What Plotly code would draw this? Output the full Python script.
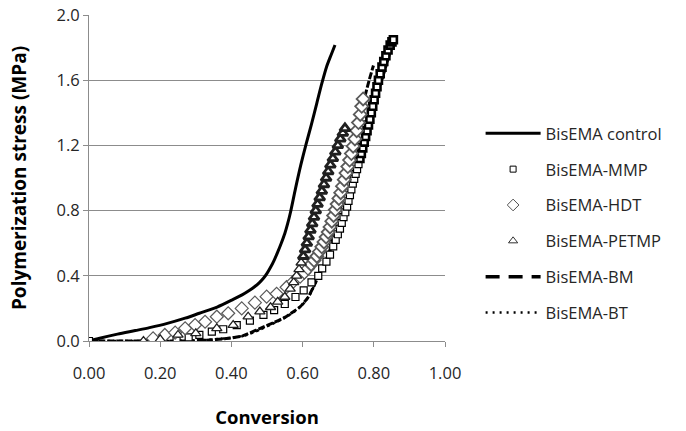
import plotly.graph_objects as go

# ---- data ----
control_x = [0.000, 0.030, 0.080, 0.130, 0.170, 0.220, 0.270, 0.310, 0.360, 0.405, 0.430, 0.450,
             0.465, 0.478, 0.490, 0.500, 0.510, 0.520, 0.530, 0.540, 0.550, 0.558, 0.566, 0.580,
             0.595, 0.610, 0.625, 0.640, 0.654, 0.667, 0.680, 0.691]
control_y = [0.000, 0.017, 0.042, 0.064, 0.082, 0.108, 0.140, 0.170, 0.208, 0.255, 0.283, 0.310,
             0.333, 0.357, 0.385, 0.415, 0.452, 0.495, 0.545, 0.600, 0.660, 0.720, 0.790, 0.935,
             1.080, 1.210, 1.330, 1.460, 1.580, 1.680, 1.755, 1.816]

mmp_x = [0.000, 0.246, 0.280, 0.310, 0.345, 0.377, 0.415, 0.452, 0.490, 0.520, 0.550, 0.580,
         0.603, 0.625, 0.644, 0.655, 0.667, 0.677, 0.686, 0.693, 0.699, 0.705, 0.710, 0.715,
         0.720, 0.725, 0.729, 0.733, 0.737, 0.741, 0.745, 0.749, 0.753, 0.757, 0.761, 0.765,
         0.769, 0.773, 0.777, 0.781, 0.785, 0.789, 0.793, 0.797, 0.801, 0.805, 0.809, 0.813,
         0.818, 0.823, 0.828, 0.834, 0.840, 0.846, 0.851, 0.855]
mmp_y = [0.000, 0.000, 0.022, 0.037, 0.057, 0.072, 0.098, 0.125, 0.160, 0.190, 0.227, 0.270,
         0.310, 0.360, 0.400, 0.445, 0.487, 0.530, 0.580, 0.620, 0.655, 0.690, 0.725, 0.760,
         0.790, 0.825, 0.860, 0.895, 0.930, 0.965, 0.995, 1.025, 1.055, 1.085, 1.120, 1.150,
         1.185, 1.220, 1.255, 1.290, 1.325, 1.360, 1.400, 1.440, 1.480, 1.520, 1.560, 1.600,
         1.640, 1.680, 1.715, 1.750, 1.785, 1.815, 1.835, 1.848]

hdt_x = [0.180, 0.213, 0.242, 0.270, 0.298, 0.326, 0.359, 0.391, 0.429, 0.466, 0.499, 0.527,
         0.555, 0.574, 0.593, 0.605, 0.615, 0.624, 0.632, 0.640, 0.647, 0.654, 0.660, 0.666,
         0.672, 0.677, 0.682, 0.687, 0.692, 0.697, 0.702, 0.707, 0.712, 0.717, 0.722, 0.727,
         0.732, 0.737, 0.742, 0.747, 0.752, 0.757, 0.762, 0.766, 0.770]
hdt_y = [0.016, 0.037, 0.051, 0.078, 0.098, 0.118, 0.149, 0.170, 0.200, 0.235, 0.272, 0.290,
         0.330, 0.364, 0.395, 0.420, 0.445, 0.470, 0.495, 0.520, 0.548, 0.578, 0.608, 0.638,
         0.668, 0.700, 0.735, 0.770, 0.805, 0.840, 0.875, 0.910, 0.950, 0.990, 1.030, 1.070,
         1.110, 1.150, 1.195, 1.240, 1.290, 1.340, 1.390, 1.440, 1.485]

petmp_x = [0.153, 0.200, 0.250, 0.300, 0.359, 0.405, 0.447, 0.480, 0.510, 0.530, 0.550, 0.565,
           0.575, 0.583, 0.590, 0.596, 0.602, 0.607, 0.612, 0.617, 0.622, 0.627, 0.632, 0.637,
           0.642, 0.648, 0.654, 0.660, 0.666, 0.672, 0.678, 0.685, 0.692, 0.699, 0.706, 0.713,
           0.719]
petmp_y = [0.000, 0.010, 0.037, 0.047, 0.078, 0.098, 0.149, 0.180, 0.207, 0.240, 0.270, 0.320,
           0.360, 0.400, 0.440, 0.480, 0.520, 0.560, 0.600, 0.640, 0.680, 0.720, 0.760, 0.800,
           0.840, 0.880, 0.920, 0.960, 1.000, 1.040, 1.080, 1.120, 1.160, 1.200, 1.240, 1.275,
           1.305]

bm_x = [0.000, 0.100, 0.200, 0.270, 0.330, 0.380, 0.430, 0.478, 0.518, 0.550, 0.574, 0.593,
        0.616, 0.635, 0.654, 0.668, 0.677, 0.686, 0.695, 0.705, 0.716, 0.728, 0.740, 0.752,
        0.764, 0.775, 0.787, 0.799]
bm_y = [0.000, 0.000, 0.000, 0.000, 0.005, 0.014, 0.030, 0.075, 0.112, 0.145, 0.180, 0.210,
        0.270, 0.354, 0.436, 0.507, 0.560, 0.690, 0.750, 0.800, 0.900, 1.030, 1.170, 1.290,
        1.400, 1.500, 1.600, 1.690]

bt_x = [0.000, 0.100, 0.200, 0.280, 0.340, 0.400, 0.440, 0.480, 0.518, 0.550, 0.575, 0.595,
        0.616, 0.635, 0.654, 0.668, 0.680, 0.692, 0.705, 0.718, 0.730, 0.742, 0.755, 0.768,
        0.781, 0.794, 0.807, 0.818, 0.830, 0.842, 0.853, 0.858]
bt_y = [0.000, 0.000, 0.000, 0.002, 0.008, 0.020, 0.035, 0.070, 0.108, 0.143, 0.178, 0.212,
        0.268, 0.350, 0.435, 0.505, 0.570, 0.640, 0.720, 0.810, 0.900, 0.990, 1.080, 1.170,
        1.270, 1.370, 1.470, 1.560, 1.650, 1.740, 1.820, 1.850]

x_ticks = [0.0, 0.2, 0.4, 0.6, 0.8, 1.0]
y_ticks = [0.0, 0.4, 0.8, 1.2, 1.6, 2.0]

FONT = "Open Sans"
GRID = "#8c8c8c"


def outline(ys, dense_from, thin, thick):
    # heavier outlines where the measured points crowd together (they render dark)
    return [thick if v >= dense_from else thin for v in ys]


fig = go.Figure()

# lines (drawn first)
fig.add_trace(go.Scatter(x=control_x, y=control_y, mode="lines", name="BisEMA control",
                         line=dict(color="black", width=3, shape="spline", smoothing=0.8),
                         legendgroup="g1", legendrank=1))
fig.add_trace(go.Scatter(x=bm_x, y=bm_y, mode="lines", name="BisEMA-BM", showlegend=False,
                         line=dict(color="black", width=3, dash="7px,2px",
                                   shape="spline", smoothing=0.6)))
fig.add_trace(go.Scatter(x=bt_x, y=bt_y, mode="lines", name="BisEMA-BT", showlegend=False,
                         line=dict(color="black", width=2.5, dash="3px,3px",
                                   shape="spline", smoothing=0.6)))

# markers
fig.add_trace(go.Scatter(x=mmp_x, y=mmp_y, mode="markers", name="BisEMA-MMP", showlegend=False,
                         marker=dict(symbol="square", size=7, color="white",
                                     line=dict(color="black",
                                               width=outline(mmp_y, 1.1, 1.2, 2.6)))))
fig.add_trace(go.Scatter(x=hdt_x, y=hdt_y, mode="markers", name="BisEMA-HDT", showlegend=False,
                         marker=dict(symbol="diamond", size=10, color="white",
                                     line=dict(color="#5a5a5a",
                                               width=outline(hdt_y, 0.45, 1.2, 1.8)))))
fig.add_trace(go.Scatter(x=petmp_x, y=petmp_y, mode="markers", name="BisEMA-PETMP",
                         showlegend=False,
                         marker=dict(symbol="triangle-up", size=9, color="white",
                                     line=dict(color="#202020",
                                               width=outline(petmp_y, 0.5, 1.3, 2.8)))))

# legend entries
fig.add_trace(go.Scatter(x=[None], y=[None], mode="markers", name="BisEMA-MMP",
                         marker=dict(symbol="square", size=6, color="white",
                                     line=dict(color="black", width=1)),
                         legendgroup="g2", legendrank=2))
fig.add_trace(go.Scatter(x=[None], y=[None], mode="markers", name="BisEMA-HDT",
                         marker=dict(symbol="diamond", size=9, color="white",
                                     line=dict(color="#505050", width=1)),
                         legendgroup="g3", legendrank=3))
fig.add_trace(go.Scatter(x=[None], y=[None], mode="markers", name="BisEMA-PETMP",
                         marker=dict(symbol="triangle-up", size=8, color="white",
                                     line=dict(color="#303030", width=1)),
                         legendgroup="g4", legendrank=4))
fig.add_trace(go.Scatter(x=[None], y=[None], mode="lines", name="BisEMA-BM",
                         line=dict(color="black", width=3.5, dash="14px,9px"),
                         legendgroup="g5", legendrank=5))
fig.add_trace(go.Scatter(x=[None], y=[None], mode="lines", name="BisEMA-BT",
                         line=dict(color="black", width=2.5, dash="2px,5px"),
                         legendgroup="g6", legendrank=6))

fig.update_layout(
    width=686, height=431,
    margin=dict(l=89, r=241, t=15, b=90),
    paper_bgcolor="white", plot_bgcolor="white",
    font=dict(family=FONT, size=16, color="#262626"),
    legend=dict(x=1.1, y=0.69, xanchor="left", yanchor="top",
                font=dict(family=FONT, size=16.5, color="#262626"),
                tracegroupgap=11.4, itemwidth=55, bgcolor="rgba(0,0,0,0)"),
    xaxis=dict(range=[0, 1], tickvals=x_ticks, tickformat=".2f", showgrid=False,
               showline=True, linecolor=GRID, linewidth=1, ticks="outside",
               ticklen=5, tickcolor=GRID, zeroline=False, ticklabelstandoff=12,
               automargin=False, tickfont=dict(size=16.5),
               title=dict(text="<b>Conversion</b>", font=dict(size=18.5, color="black"),
                          standoff=28)),
    yaxis=dict(range=[0, 2], tickvals=y_ticks, tickformat=".1f", showgrid=True,
               gridcolor=GRID, gridwidth=1, showline=True, linecolor=GRID, linewidth=1,
               ticks="outside", ticklen=5, tickcolor=GRID, zeroline=False,
               automargin=False, tickfont=dict(size=16.5), ticklabeloverflow="allow",
               title=dict(text="<b>Polymerization stress (MPa)</b>",
                          font=dict(size=19, color="black"), standoff=24)),
)

# remove the browser's default 8px page margin so the figure fills the window
fig.write_html("out.html", config={"displayModeBar": False},
               post_script="document.body.style.margin='0px';")
